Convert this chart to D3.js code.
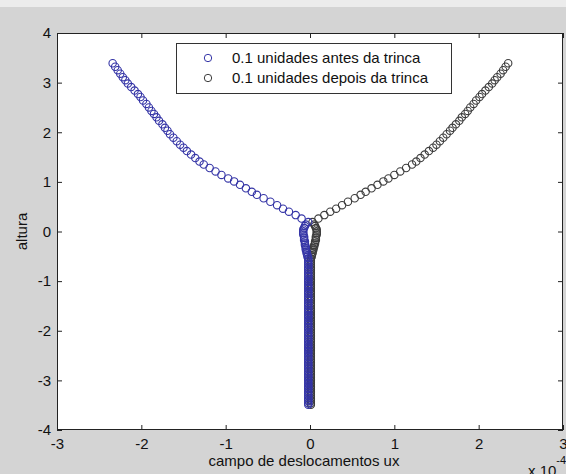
<!DOCTYPE html>
<html>
<head>
<meta charset="utf-8">
<script src="https://cdn.jsdelivr.net/npm/d3@7"></script>
<style>
    body { margin: 0; padding: 0; background: #d4d4d4; }
    #chart-area svg { display: block; }
    .tick-label { font-family: "Liberation Sans", Arial, sans-serif; font-size: 15px; fill: #111; }
</style>
</head>
<body>
<div id="chart-area"></div>
<script>

// heights of the nodes on the opened part (above the crack tip)
var curveY = [0.19, 0.26, 0.33, 0.40, 0.46, 0.53, 0.60, 0.67, 0.74, 0.80, 0.87, 0.94,
    1.01, 1.07, 1.14, 1.21, 1.28, 1.35, 1.41, 1.48, 1.55, 1.62, 1.69, 1.75,
    1.82, 1.89, 1.96, 2.03, 2.09, 2.16, 2.23, 2.30, 2.37, 2.43, 2.50, 2.57,
    2.64, 2.71, 2.77, 2.84, 2.91, 2.98, 3.05, 3.11, 3.18, 3.25, 3.32, 3.39];

// heights of the nodes along the stem (below the crack tip)
var stemY = [0.14, 0.11, 0.07, 0.04, 0.00, -0.03, -0.06, -0.10, -0.13, -0.17,
    -0.20, -0.24, -0.27, -0.30, -0.34, -0.37, -0.41, -0.44, -0.48, -0.51,
    -0.54, -0.58, -0.61, -0.65, -0.68, -0.72, -0.75, -0.78, -0.82, -0.85,
    -0.89, -0.92, -0.96, -0.99, -1.02, -1.06, -1.09, -1.13, -1.16, -1.20,
    -1.23, -1.26, -1.30, -1.33, -1.37, -1.40, -1.44, -1.47, -1.50, -1.54,
    -1.57, -1.61, -1.64, -1.68, -1.71, -1.74, -1.78, -1.81, -1.85, -1.88,
    -1.92, -1.95, -1.98, -2.02, -2.05, -2.09, -2.12, -2.16, -2.19, -2.22,
    -2.26, -2.29, -2.33, -2.36, -2.40, -2.43, -2.46, -2.50, -2.53, -2.57,
    -2.60, -2.64, -2.67, -2.70, -2.74, -2.77, -2.81, -2.84, -2.88, -2.91,
    -2.94, -2.98, -3.01, -3.05, -3.08, -3.12, -3.15, -3.18, -3.22, -3.25,
    -3.29, -3.32, -3.36, -3.39, -3.42, -3.46, -3.49];

// ux (x 10^-4) - "antes da trinca"
var antesCurveX = [-0.02, -0.10, -0.17, -0.25, -0.32, -0.39, -0.47, -0.55, -0.63, -0.69, -0.76, -0.83,
    -0.90, -0.97, -1.05, -1.12, -1.19, -1.26, -1.31, -1.36, -1.41, -1.46, -1.50, -1.54,
    -1.58, -1.62, -1.66, -1.69, -1.72, -1.75, -1.79, -1.82, -1.85, -1.88, -1.91, -1.94,
    -1.98, -2.01, -2.04, -2.08, -2.12, -2.16, -2.19, -2.22, -2.25, -2.28, -2.31, -2.34];

var antesStemX = [-0.05, -0.06, -0.07, -0.08, -0.08, -0.08, -0.08, -0.07, -0.07, -0.07,
    -0.06, -0.06, -0.06, -0.05, -0.05, -0.05, -0.04, -0.04, -0.03, -0.03,
    -0.02, -0.02, -0.02, -0.02, -0.02, -0.02, -0.02, -0.02, -0.02, -0.02,
    -0.02, -0.02, -0.02, -0.02, -0.02, -0.02, -0.02, -0.02, -0.02, -0.02,
    -0.02, -0.02, -0.02, -0.02, -0.02, -0.02, -0.02, -0.02, -0.02, -0.02,
    -0.02, -0.02, -0.02, -0.02, -0.02, -0.02, -0.02, -0.02, -0.02, -0.02,
    -0.02, -0.02, -0.02, -0.02, -0.02, -0.02, -0.02, -0.02, -0.02, -0.02,
    -0.02, -0.02, -0.02, -0.02, -0.02, -0.02, -0.02, -0.02, -0.02, -0.02,
    -0.02, -0.02, -0.02, -0.02, -0.02, -0.02, -0.02, -0.02, -0.02, -0.02,
    -0.02, -0.02, -0.02, -0.02, -0.02, -0.02, -0.02, -0.02, -0.02, -0.02,
    -0.02, -0.02, -0.02, -0.02, -0.02, -0.02, -0.02];

// ux (x 10^-4) - "depois da trinca"
var depoisCurveX = [0.03, 0.10, 0.17, 0.24, 0.31, 0.38, 0.45, 0.53, 0.60, 0.66, 0.73, 0.80,
    0.87, 0.93, 1.00, 1.07, 1.14, 1.21, 1.26, 1.31, 1.36, 1.41, 1.46, 1.50,
    1.54, 1.58, 1.62, 1.66, 1.69, 1.73, 1.77, 1.80, 1.84, 1.87, 1.90, 1.94,
    1.97, 2.01, 2.04, 2.08, 2.12, 2.16, 2.19, 2.22, 2.26, 2.29, 2.32, 2.35];

var depoisStemX = [0.05, 0.06, 0.07, 0.08, 0.08, 0.08, 0.08, 0.07, 0.07, 0.07,
    0.06, 0.06, 0.05, 0.05, 0.04, 0.04, 0.03, 0.03, 0.02, 0.02,
    0.01, 0.01, 0.01, 0.01, 0.01, 0.01, 0.01, 0.01, 0.01, 0.01,
    0.01, 0.01, 0.01, 0.01, 0.01, 0.01, 0.01, 0.01, 0.01, 0.01,
    0.01, 0.01, 0.01, 0.01, 0.01, 0.01, 0.01, 0.01, 0.01, 0.01,
    0.01, 0.01, 0.01, 0.01, 0.01, 0.01, 0.01, 0.01, 0.01, 0.01,
    0.01, 0.01, 0.01, 0.01, 0.01, 0.01, 0.01, 0.01, 0.01, 0.01,
    0.01, 0.01, 0.01, 0.01, 0.01, 0.01, 0.01, 0.01, 0.01, 0.01,
    0.01, 0.01, 0.01, 0.01, 0.01, 0.01, 0.01, 0.01, 0.01, 0.01,
    0.01, 0.01, 0.01, 0.01, 0.01, 0.01, 0.01, 0.01, 0.01, 0.01,
    0.01, 0.01, 0.01, 0.01, 0.01, 0.01, 0.01];

var xTicks = [-3, -2, -1, 0, 1, 2, 3];
var yTicks = [-4, -3, -2, -1, 0, 1, 2, 3, 4];

var seriesNames = ["0.1 unidades antes da trinca", "0.1 unidades depois da trinca"];
var seriesColors = ["#3434a6", "#3c3c3c"];


/*
 *  DisplacementChart - scatter of open circles, matlab style
 */

DisplacementChart = function(_parentElement) {
    this.parentElement = _parentElement;
    this.initVis();
};

DisplacementChart.prototype.initVis = function() {
    var vis = this;

    vis.fullWidth = 566;
    vis.fullHeight = 474;
    vis.box = { left: 57, right: 563, top: 33, bottom: 430 };

    vis.svg = d3.select("#" + vis.parentElement).append("svg")
        .attr("width", vis.fullWidth)
        .attr("height", vis.fullHeight);

    // figure background, light strip on top
    vis.svg.append("rect")
        .attr("width", vis.fullWidth).attr("height", vis.fullHeight)
        .attr("fill", "#d4d4d4");
    vis.svg.append("rect")
        .attr("width", vis.fullWidth).attr("height", 7)
        .attr("fill", "#ececec");

    vis.x = d3.scaleLinear().domain([-3, 3]).range([vis.box.left, vis.box.right]);
    vis.y = d3.scaleLinear().domain([-4, 4]).range([vis.box.bottom, vis.box.top]);

    vis.svg.append("rect")
        .attr("x", vis.box.left).attr("y", vis.box.top)
        .attr("width", vis.box.right - vis.box.left)
        .attr("height", vis.box.bottom - vis.box.top)
        .attr("fill", "#fff");

    vis.wrangleData();
};

DisplacementChart.prototype.wrangleData = function() {
    var vis = this;

    function build(curveX, stemX) {
        var pts = [];
        curveX.forEach(function(d, i) { pts.push({ x: d, y: curveY[i] }); });
        stemX.forEach(function(d, i) { pts.push({ x: d, y: stemY[i] }); });
        return pts;
    }

    vis.displayData = [
        { name: seriesNames[0], color: seriesColors[0], values: build(antesCurveX, antesStemX) },
        { name: seriesNames[1], color: seriesColors[1], values: build(depoisCurveX, depoisStemX) }
    ];

    vis.updateVis();
};

DisplacementChart.prototype.updateVis = function() {
    var vis = this;
    var b = vis.box;

    // circles - black first so the blue stem stays on top
    var order = [vis.displayData[1], vis.displayData[0]];
    order.forEach(function(s) {
        vis.svg.append("g").selectAll("circle")
            .data(s.values)
            .enter()
            .append("circle")
            .attr("cx", function(d) { return vis.x(d.x); })
            .attr("cy", function(d) { return vis.y(d.y); })
            .attr("r", 3.7)
            .attr("fill", "none")
            .attr("stroke", s.color)
            .attr("stroke-width", 1.1);
    });

    // axes, ticks inside on all four sides
    var fmt = function(d) { return String(d); };

    var xAxis = vis.svg.append("g")
        .attr("transform", "translate(0," + b.bottom + ")")
        .call(d3.axisBottom(vis.x).tickValues(xTicks).tickSize(-5).tickPadding(8).tickFormat(fmt));
    var xTop = vis.svg.append("g")
        .attr("transform", "translate(0," + b.top + ")")
        .call(d3.axisTop(vis.x).tickValues(xTicks).tickSize(-5).tickFormat(""));
    var yAxis = vis.svg.append("g")
        .attr("transform", "translate(" + b.left + ",0)")
        .call(d3.axisLeft(vis.y).tickValues(yTicks).tickSize(-5).tickPadding(6).tickFormat(fmt));
    var yRight = vis.svg.append("g")
        .attr("transform", "translate(" + b.right + ",0)")
        .call(d3.axisRight(vis.y).tickValues(yTicks).tickSize(-5).tickFormat(""));

    [xAxis, xTop, yAxis, yRight].forEach(function(a) {
        a.select(".domain").remove();
        a.selectAll(".tick line").attr("stroke", "#222");
        a.selectAll(".tick text").attr("class", "tick-label").attr("fill", null);
    });

    vis.svg.append("rect")
        .attr("x", b.left + 0.5).attr("y", b.top + 0.5)
        .attr("width", b.right - b.left - 1)
        .attr("height", b.bottom - b.top - 1)
        .attr("fill", "none")
        .attr("stroke", "#222");

    // axis labels
    vis.svg.append("text")
        .attr("class", "tick-label")
        .attr("x", (b.left + b.right) / 2 - 6)
        .attr("y", 466)
        .attr("text-anchor", "middle")
        .text("campo de deslocamentos ux");

    vis.svg.append("text")
        .attr("class", "tick-label")
        .attr("transform", "translate(27," + ((b.top + b.bottom) / 2) + ") rotate(-90)")
        .attr("text-anchor", "middle")
        .text("altura");

    var expo = vis.svg.append("text")
        .attr("class", "tick-label")
        .attr("x", 528)
        .attr("y", 476);
    expo.append("tspan").text("x 10");
    expo.append("tspan").attr("dy", -12).style("font-size", "11px").text("-4");

    // legend
    var lg = vis.svg.append("g");
    lg.append("rect")
        .attr("x", 176.5).attr("y", 43.5)
        .attr("width", 275).attr("height", 50)
        .attr("fill", "#fff")
        .attr("stroke", "#333");

    vis.displayData.forEach(function(s, i) {
        lg.append("circle")
            .attr("cx", 208).attr("cy", 58 + i * 20)
            .attr("r", 3.7)
            .attr("fill", "none")
            .attr("stroke", s.color);
        lg.append("text")
            .attr("class", "tick-label")
            .attr("x", 232).attr("y", 63 + i * 20)
            .text(s.name);
    });
};

var chart = new DisplacementChart("chart-area");

</script>
</body>
</html>
